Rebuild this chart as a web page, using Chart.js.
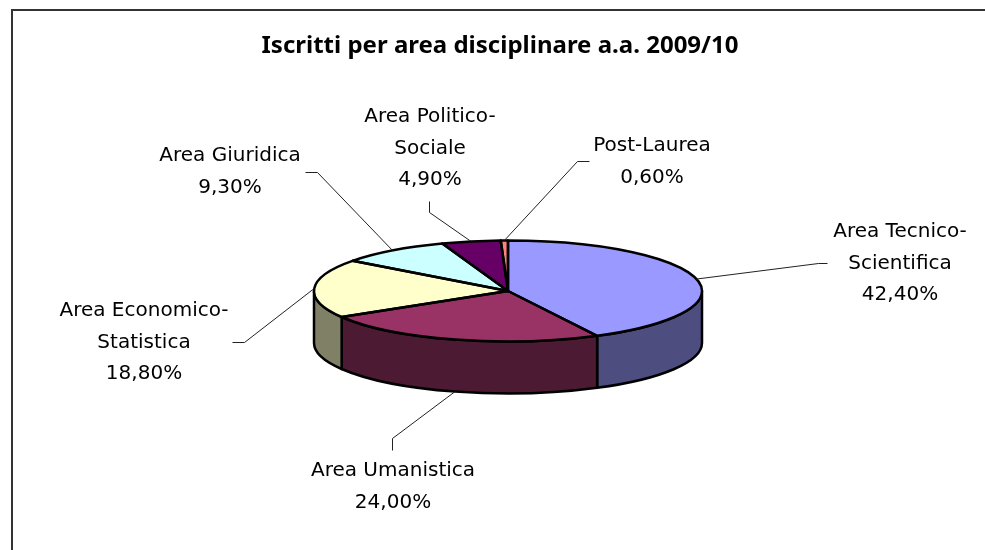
<!DOCTYPE html>
<html lang="it">
<head>
<meta charset="utf-8">
<title>Iscritti per area disciplinare</title>
<script src="https://cdn.jsdelivr.net/npm/chart.js@4"></script>
<style>
  html, body { margin: 0; padding: 0; background: #fff; overflow: hidden; }
  #wrap { position: relative; width: 985px; height: 550px; }
  #frame { position: absolute; left: 11px; top: 9px; right: 0; bottom: 0; border-left: 2px solid #333; border-top: 2px solid #333; }
  canvas { position: absolute; left: 0; top: 0; }
</style>
</head>
<body>
<div id="wrap">
  <div id="frame"></div>
  <canvas id="chart" width="985" height="550"></canvas>
</div>
<script>
const TITLE = 'Iscritti per area disciplinare a.a. 2009/10';

const CATEGORIES = [
  ['Area Tecnico-', 'Scientifica'],
  ['Area Umanistica'],
  ['Area Economico-', 'Statistica'],
  ['Area Giuridica'],
  ['Area Politico-', 'Sociale'],
  ['Post-Laurea']
];
const VALUES = [42.4, 24.0, 18.8, 9.3, 4.9, 0.6];

const TOP_COLORS = ['#9999ff', '#993366', '#ffffcc', '#ccffff', '#660066', '#ff8080'];
const SIDE_COLORS = ['#4d4d80', '#4d1a33', '#808066', '#668080', '#330033', '#804040'];

// where each label sits (centre x, middle of first line) and the leader's elbow + end
const LABEL_POS = [[900, 232], [393, 471], [144, 311], [230, 156], [430, 117], [652, 146]];
const LEADER_PTS = [
  [[818, 263], [827, 263]],
  [[392, 438], [392, 450]],
  [[244, 342], [232, 342]],
  [[317, 172], [305, 172]],
  [[429, 212], [429, 201]],
  [[577, 161], [589, 161]]
];

const SQUASH = 50.5 / 194;
const DEPTH = 52;
const LINE_H = 31.3;
const FONT_FAMILY = '"DejaVu Sans", sans-serif';
const TITLE_FONT_FAMILY = '"Noto Sans", sans-serif';

function wallRange(arc) {
  const a0 = Math.max(arc.startAngle, 0);
  const a1 = Math.min(arc.endAngle, Math.PI);
  return a1 > a0 ? [a0, a1] : null;
}

const pie3d = {
  id: 'pie3d',
  afterLayout(chart) {
    // title is wider than the pie box and not centred on the pie
    chart.titleBlock.left = 0;
    chart.titleBlock.right = 1000;
  },
  beforeDatasetsDraw(chart) {
    const ctx = chart.ctx;
    const arcs = chart.getDatasetMeta(0).data;
    const { x: cx, y: cy, outerRadius: r } = arcs[0];
    const ry = r * SQUASH;

    ctx.save();
    ctx.lineWidth = 2.5;
    ctx.lineJoin = 'round';
    ctx.strokeStyle = '#000';
    arcs.forEach((arc, i) => {
      const range = wallRange(arc);
      if (!range) return;
      ctx.beginPath();
      ctx.ellipse(cx, cy, r, ry, 0, range[0], range[1]);
      ctx.ellipse(cx, cy + DEPTH, r, ry, 0, range[1], range[0], true);
      ctx.closePath();
      ctx.fillStyle = SIDE_COLORS[i];
      ctx.fill();
      ctx.stroke();
    });
    ctx.restore();

    // the library draws the slices flattened into an ellipse
    ctx.save();
    ctx.translate(cx, cy);
    ctx.scale(1, SQUASH);
    ctx.translate(-cx, -cy);
  },
  afterDatasetsDraw(chart) {
    const ctx = chart.ctx;
    ctx.restore();

    const arcs = chart.getDatasetMeta(0).data;
    const { x: cx, y: cy, outerRadius: r } = arcs[0];
    const ry = r * SQUASH;

    ctx.save();
    ctx.lineWidth = 2.5;
    ctx.lineJoin = 'round';
    ctx.strokeStyle = '#000';
    arcs.forEach(arc => {
      ctx.beginPath();
      ctx.moveTo(cx, cy);
      ctx.ellipse(cx, cy, r, ry, 0, arc.startAngle, arc.endAngle);
      ctx.closePath();
      ctx.stroke();
    });

    ctx.lineWidth = 1;
    ctx.strokeStyle = '#222';
    arcs.forEach((arc, i) => {
      const mid = (arc.startAngle + arc.endAngle) / 2;
      const sx = cx + r * Math.cos(mid);
      let sy = cy + ry * Math.sin(mid);
      if (wallRange({ startAngle: mid - 0.001, endAngle: mid + 0.001 })) sy += DEPTH;
      ctx.beginPath();
      ctx.moveTo(sx, sy);
      LEADER_PTS[i].forEach(p => ctx.lineTo(p[0] + 0.5, p[1] + 0.5));
      ctx.stroke();
    });

    ctx.fillStyle = '#000';
    ctx.font = '20px ' + FONT_FAMILY;
    ctx.textAlign = 'center';
    ctx.textBaseline = 'middle';
    CATEGORIES.forEach((lines, i) => {
      const [x, y] = LABEL_POS[i];
      const text = lines.concat(VALUES[i].toFixed(2).replace('.', ',') + '%');
      text.forEach((t, n) => ctx.fillText(t, x, y + n * LINE_H));
    });
    ctx.restore();
  }
};

new Chart(document.getElementById('chart'), {
  type: 'pie',
  data: {
    labels: CATEGORIES.map(c => c.join('')),
    datasets: [{
      data: VALUES,
      backgroundColor: TOP_COLORS,
      borderWidth: 0
    }]
  },
  options: {
    responsive: false,
    animation: false,
    layout: { padding: { left: 314, right: 283, top: 0, bottom: 65 } },
    plugins: {
      legend: { display: false },
      tooltip: { enabled: false },
      title: {
        display: true,
        text: TITLE,
        color: '#000',
        font: { family: TITLE_FONT_FAMILY, size: 24, weight: 'bold', lineHeight: 1.2 },
        padding: { top: 31.4, bottom: 36.8 }
      }
    }
  },
  plugins: [pie3d]
});
</script>
</body>
</html>
